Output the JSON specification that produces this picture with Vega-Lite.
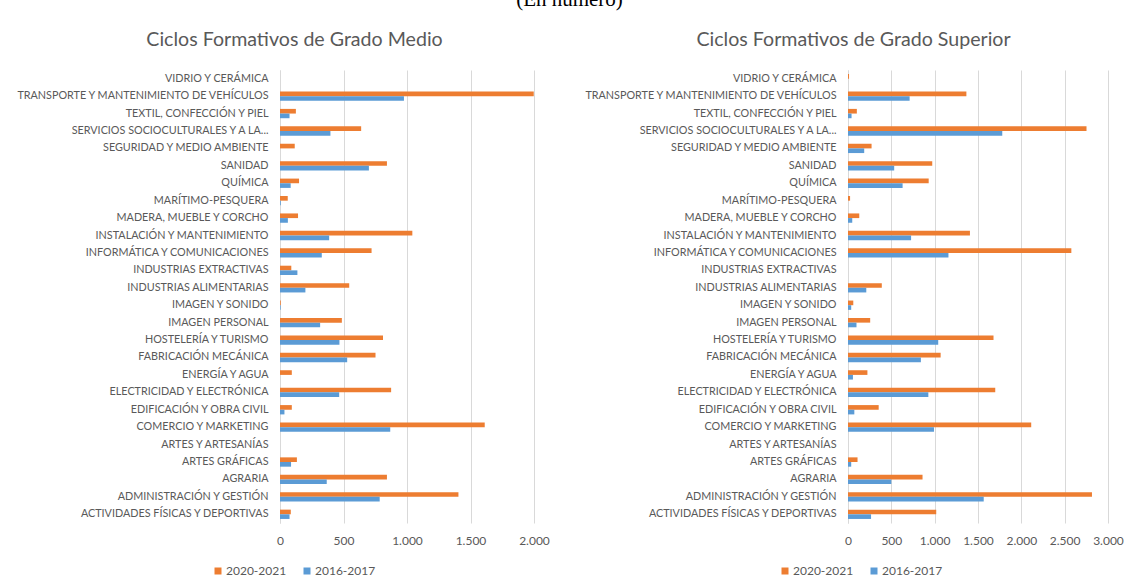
{
  "$schema": "https://vega.github.io/schema/vega-lite/v6.json",
  "padding": {"left": 15, "top": -11, "right": 5, "bottom": 5},
  "background": "white",
  "title": {"text": "(En número)", "font": "Liberation Serif", "fontSize": 21, "fontWeight": "normal", "color": "#000000", "offset": 20, "anchor": "middle", "frame": "bounds"},
  "config": {
    "locale": {"number": {"decimal": ",", "thousands": ".", "grouping": [3], "currency": ["", " €"]}},
    "view": {"stroke": null},
    "font": "Lato",
    "axis": {"labelColor": "#595959", "labelFont": "Lato", "ticks": false, "gridColor": "#d9d9d9", "gridWidth": 1, "domainColor": "#d9d9d9", "title": null},
    "axisY": {"domain": true, "grid": false, "labelFontSize": 10.8, "labelPadding": 12, "labelLimit": 400},
    "axisX": {"domain": false, "grid": true, "labelFontSize": 12, "labelPadding": 12, "labelOverlap": false, "labelFlush": false},
    "legend": {"labelFont": "Lato", "labelFontSize": 12, "labelColor": "#595959", "symbolType": "square", "symbolSize": 49, "symbolStrokeWidth": 0, "columnPadding": 14, "labelOffset": 2, "title": null},
    "title": {"font": "Lato", "fontSize": 19.6, "fontWeight": "normal", "color": "#595959"}
  },
  "data": {"values": [
    {"g": "Medio", "f": "VIDRIO Y CERÁMICA", "c": "2020-2021", "n": 0},
    {"g": "Medio", "f": "VIDRIO Y CERÁMICA", "c": "2016-2017", "n": 0},
    {"g": "Medio", "f": "TRANSPORTE Y MANTENIMIENTO DE VEHÍCULOS", "c": "2020-2021", "n": 1998},
    {"g": "Medio", "f": "TRANSPORTE Y MANTENIMIENTO DE VEHÍCULOS", "c": "2016-2017", "n": 976},
    {"g": "Medio", "f": "TEXTIL, CONFECCIÓN Y PIEL", "c": "2020-2021", "n": 125},
    {"g": "Medio", "f": "TEXTIL, CONFECCIÓN Y PIEL", "c": "2016-2017", "n": 75},
    {"g": "Medio", "f": "SERVICIOS SOCIOCULTURALES Y A LA COMUNIDAD", "c": "2020-2021", "n": 639},
    {"g": "Medio", "f": "SERVICIOS SOCIOCULTURALES Y A LA COMUNIDAD", "c": "2016-2017", "n": 397},
    {"g": "Medio", "f": "SEGURIDAD Y MEDIO AMBIENTE", "c": "2020-2021", "n": 116},
    {"g": "Medio", "f": "SEGURIDAD Y MEDIO AMBIENTE", "c": "2016-2017", "n": 0},
    {"g": "Medio", "f": "SANIDAD", "c": "2020-2021", "n": 842},
    {"g": "Medio", "f": "SANIDAD", "c": "2016-2017", "n": 700},
    {"g": "Medio", "f": "QUÍMICA", "c": "2020-2021", "n": 150},
    {"g": "Medio", "f": "QUÍMICA", "c": "2016-2017", "n": 84},
    {"g": "Medio", "f": "MARÍTIMO-PESQUERA", "c": "2020-2021", "n": 61},
    {"g": "Medio", "f": "MARÍTIMO-PESQUERA", "c": "2016-2017", "n": 6},
    {"g": "Medio", "f": "MADERA, MUEBLE Y CORCHO", "c": "2020-2021", "n": 142},
    {"g": "Medio", "f": "MADERA, MUEBLE Y CORCHO", "c": "2016-2017", "n": 62},
    {"g": "Medio", "f": "INSTALACIÓN Y MANTENIMIENTO", "c": "2020-2021", "n": 1042},
    {"g": "Medio", "f": "INSTALACIÓN Y MANTENIMIENTO", "c": "2016-2017", "n": 387},
    {"g": "Medio", "f": "INFORMÁTICA Y COMUNICACIONES", "c": "2020-2021", "n": 721},
    {"g": "Medio", "f": "INFORMÁTICA Y COMUNICACIONES", "c": "2016-2017", "n": 329},
    {"g": "Medio", "f": "INDUSTRIAS EXTRACTIVAS", "c": "2020-2021", "n": 89},
    {"g": "Medio", "f": "INDUSTRIAS EXTRACTIVAS", "c": "2016-2017", "n": 137},
    {"g": "Medio", "f": "INDUSTRIAS ALIMENTARIAS", "c": "2020-2021", "n": 545},
    {"g": "Medio", "f": "INDUSTRIAS ALIMENTARIAS", "c": "2016-2017", "n": 200},
    {"g": "Medio", "f": "IMAGEN Y SONIDO", "c": "2020-2021", "n": 6},
    {"g": "Medio", "f": "IMAGEN Y SONIDO", "c": "2016-2017", "n": 5},
    {"g": "Medio", "f": "IMAGEN PERSONAL", "c": "2020-2021", "n": 487},
    {"g": "Medio", "f": "IMAGEN PERSONAL", "c": "2016-2017", "n": 316},
    {"g": "Medio", "f": "HOSTELERÍA Y TURISMO", "c": "2020-2021", "n": 811},
    {"g": "Medio", "f": "HOSTELERÍA Y TURISMO", "c": "2016-2017", "n": 468},
    {"g": "Medio", "f": "FABRICACIÓN MECÁNICA", "c": "2020-2021", "n": 752},
    {"g": "Medio", "f": "FABRICACIÓN MECÁNICA", "c": "2016-2017", "n": 529},
    {"g": "Medio", "f": "ENERGÍA Y AGUA", "c": "2020-2021", "n": 93},
    {"g": "Medio", "f": "ENERGÍA Y AGUA", "c": "2016-2017", "n": 0},
    {"g": "Medio", "f": "ELECTRICIDAD Y ELECTRÓNICA", "c": "2020-2021", "n": 875},
    {"g": "Medio", "f": "ELECTRICIDAD Y ELECTRÓNICA", "c": "2016-2017", "n": 466},
    {"g": "Medio", "f": "EDIFICACIÓN Y OBRA CIVIL", "c": "2020-2021", "n": 93},
    {"g": "Medio", "f": "EDIFICACIÓN Y OBRA CIVIL", "c": "2016-2017", "n": 35},
    {"g": "Medio", "f": "COMERCIO Y MARKETING", "c": "2020-2021", "n": 1612},
    {"g": "Medio", "f": "COMERCIO Y MARKETING", "c": "2016-2017", "n": 868},
    {"g": "Medio", "f": "ARTES Y ARTESANÍAS", "c": "2020-2021", "n": 0},
    {"g": "Medio", "f": "ARTES Y ARTESANÍAS", "c": "2016-2017", "n": 0},
    {"g": "Medio", "f": "ARTES GRÁFICAS", "c": "2020-2021", "n": 133},
    {"g": "Medio", "f": "ARTES GRÁFICAS", "c": "2016-2017", "n": 87},
    {"g": "Medio", "f": "AGRARIA", "c": "2020-2021", "n": 842},
    {"g": "Medio", "f": "AGRARIA", "c": "2016-2017", "n": 368},
    {"g": "Medio", "f": "ADMINISTRACIÓN Y GESTIÓN", "c": "2020-2021", "n": 1405},
    {"g": "Medio", "f": "ADMINISTRACIÓN Y GESTIÓN", "c": "2016-2017", "n": 785},
    {"g": "Medio", "f": "ACTIVIDADES FÍSICAS Y DEPORTIVAS", "c": "2020-2021", "n": 85},
    {"g": "Medio", "f": "ACTIVIDADES FÍSICAS Y DEPORTIVAS", "c": "2016-2017", "n": 75},
    {"g": "Superior", "f": "VIDRIO Y CERÁMICA", "c": "2020-2021", "n": 12},
    {"g": "Superior", "f": "VIDRIO Y CERÁMICA", "c": "2016-2017", "n": 0},
    {"g": "Superior", "f": "TRANSPORTE Y MANTENIMIENTO DE VEHÍCULOS", "c": "2020-2021", "n": 1366},
    {"g": "Superior", "f": "TRANSPORTE Y MANTENIMIENTO DE VEHÍCULOS", "c": "2016-2017", "n": 711},
    {"g": "Superior", "f": "TEXTIL, CONFECCIÓN Y PIEL", "c": "2020-2021", "n": 102},
    {"g": "Superior", "f": "TEXTIL, CONFECCIÓN Y PIEL", "c": "2016-2017", "n": 41},
    {"g": "Superior", "f": "SERVICIOS SOCIOCULTURALES Y A LA COMUNIDAD", "c": "2020-2021", "n": 2752},
    {"g": "Superior", "f": "SERVICIOS SOCIOCULTURALES Y A LA COMUNIDAD", "c": "2016-2017", "n": 1780},
    {"g": "Superior", "f": "SEGURIDAD Y MEDIO AMBIENTE", "c": "2020-2021", "n": 272},
    {"g": "Superior", "f": "SEGURIDAD Y MEDIO AMBIENTE", "c": "2016-2017", "n": 187},
    {"g": "Superior", "f": "SANIDAD", "c": "2020-2021", "n": 972},
    {"g": "Superior", "f": "SANIDAD", "c": "2016-2017", "n": 533},
    {"g": "Superior", "f": "QUÍMICA", "c": "2020-2021", "n": 931},
    {"g": "Superior", "f": "QUÍMICA", "c": "2016-2017", "n": 630},
    {"g": "Superior", "f": "MARÍTIMO-PESQUERA", "c": "2020-2021", "n": 24},
    {"g": "Superior", "f": "MARÍTIMO-PESQUERA", "c": "2016-2017", "n": 0},
    {"g": "Superior", "f": "MADERA, MUEBLE Y CORCHO", "c": "2020-2021", "n": 130},
    {"g": "Superior", "f": "MADERA, MUEBLE Y CORCHO", "c": "2016-2017", "n": 49},
    {"g": "Superior", "f": "INSTALACIÓN Y MANTENIMIENTO", "c": "2020-2021", "n": 1407},
    {"g": "Superior", "f": "INSTALACIÓN Y MANTENIMIENTO", "c": "2016-2017", "n": 728},
    {"g": "Superior", "f": "INFORMÁTICA Y COMUNICACIONES", "c": "2020-2021", "n": 2577},
    {"g": "Superior", "f": "INFORMÁTICA Y COMUNICACIONES", "c": "2016-2017", "n": 1159},
    {"g": "Superior", "f": "INDUSTRIAS EXTRACTIVAS", "c": "2020-2021", "n": 0},
    {"g": "Superior", "f": "INDUSTRIAS EXTRACTIVAS", "c": "2016-2017", "n": 0},
    {"g": "Superior", "f": "INDUSTRIAS ALIMENTARIAS", "c": "2020-2021", "n": 390},
    {"g": "Superior", "f": "INDUSTRIAS ALIMENTARIAS", "c": "2016-2017", "n": 211},
    {"g": "Superior", "f": "IMAGEN Y SONIDO", "c": "2020-2021", "n": 61},
    {"g": "Superior", "f": "IMAGEN Y SONIDO", "c": "2016-2017", "n": 37},
    {"g": "Superior", "f": "IMAGEN PERSONAL", "c": "2020-2021", "n": 256},
    {"g": "Superior", "f": "IMAGEN PERSONAL", "c": "2016-2017", "n": 98},
    {"g": "Superior", "f": "HOSTELERÍA Y TURISMO", "c": "2020-2021", "n": 1679},
    {"g": "Superior", "f": "HOSTELERÍA Y TURISMO", "c": "2016-2017", "n": 1041},
    {"g": "Superior", "f": "FABRICACIÓN MECÁNICA", "c": "2020-2021", "n": 1069},
    {"g": "Superior", "f": "FABRICACIÓN MECÁNICA", "c": "2016-2017", "n": 841},
    {"g": "Superior", "f": "ENERGÍA Y AGUA", "c": "2020-2021", "n": 224},
    {"g": "Superior", "f": "ENERGÍA Y AGUA", "c": "2016-2017", "n": 57},
    {"g": "Superior", "f": "ELECTRICIDAD Y ELECTRÓNICA", "c": "2020-2021", "n": 1699},
    {"g": "Superior", "f": "ELECTRICIDAD Y ELECTRÓNICA", "c": "2016-2017", "n": 927},
    {"g": "Superior", "f": "EDIFICACIÓN Y OBRA CIVIL", "c": "2020-2021", "n": 354},
    {"g": "Superior", "f": "EDIFICACIÓN Y OBRA CIVIL", "c": "2016-2017", "n": 73},
    {"g": "Superior", "f": "COMERCIO Y MARKETING", "c": "2020-2021", "n": 2114},
    {"g": "Superior", "f": "COMERCIO Y MARKETING", "c": "2016-2017", "n": 992},
    {"g": "Superior", "f": "ARTES Y ARTESANÍAS", "c": "2020-2021", "n": 0},
    {"g": "Superior", "f": "ARTES Y ARTESANÍAS", "c": "2016-2017", "n": 0},
    {"g": "Superior", "f": "ARTES GRÁFICAS", "c": "2020-2021", "n": 110},
    {"g": "Superior", "f": "ARTES GRÁFICAS", "c": "2016-2017", "n": 37},
    {"g": "Superior", "f": "AGRARIA", "c": "2020-2021", "n": 860},
    {"g": "Superior", "f": "AGRARIA", "c": "2016-2017", "n": 500},
    {"g": "Superior", "f": "ADMINISTRACIÓN Y GESTIÓN", "c": "2020-2021", "n": 2815},
    {"g": "Superior", "f": "ADMINISTRACIÓN Y GESTIÓN", "c": "2016-2017", "n": 1566},
    {"g": "Superior", "f": "ACTIVIDADES FÍSICAS Y DEPORTIVAS", "c": "2020-2021", "n": 1018},
    {"g": "Superior", "f": "ACTIVIDADES FÍSICAS Y DEPORTIVAS", "c": "2016-2017", "n": 266}
  ]},
  "spacing": 33,
  "resolve": {"scale": {"color": "independent"}, "legend": {"color": "independent"}},
  "hconcat": [
    {
      "title": {"text": "Ciclos Formativos de Grado Medio", "frame": "bounds", "anchor": "middle", "offset": 19, "dx": 12},
      "transform": [{"filter": "datum.g == 'Medio'"}],
      "width": 254,
      "height": 453,
      "mark": {"type": "bar"},
      "encoding": {
        "y": {"field": "f", "type": "nominal", "sort": null, "scale": {"paddingInner": 0.465, "paddingOuter": 0.2325},
              "axis": {"labelExpr": "datum.label == 'SERVICIOS SOCIOCULTURALES Y A LA COMUNIDAD' ? 'SERVICIOS SOCIOCULTURALES Y A LA...' : datum.label"}},
        "yOffset": {"field": "c", "type": "nominal", "sort": ["2020-2021", "2016-2017"], "scale": {"paddingInner": 0, "paddingOuter": 0}},
        "x": {"field": "n", "type": "quantitative", "scale": {"domain": [0, 2000], "nice": false},
              "axis": {"values": [0, 500, 1000, 1500, 2000], "format": ",d"}},
        "color": {"field": "c", "type": "nominal", "scale": {"domain": ["2020-2021", "2016-2017"], "range": ["#ED7D31", "#5B9BD5"]},
                  "legend": {"orient": "none", "direction": "horizontal", "legendX": -68, "legendY": 495}}
      }
    },
    {
      "title": {"text": "Ciclos Formativos de Grado Superior", "frame": "bounds", "anchor": "middle", "offset": 19},
      "transform": [{"filter": "datum.g == 'Superior'"}],
      "width": 260,
      "height": 453,
      "mark": {"type": "bar"},
      "encoding": {
        "y": {"field": "f", "type": "nominal", "sort": null, "scale": {"paddingInner": 0.465, "paddingOuter": 0.2325},
              "axis": {"labelExpr": "datum.label == 'SERVICIOS SOCIOCULTURALES Y A LA COMUNIDAD' ? 'SERVICIOS SOCIOCULTURALES Y A LA...' : datum.label"}},
        "yOffset": {"field": "c", "type": "nominal", "sort": ["2020-2021", "2016-2017"], "scale": {"paddingInner": 0, "paddingOuter": 0}},
        "x": {"field": "n", "type": "quantitative", "scale": {"domain": [0, 3000], "nice": false},
              "axis": {"values": [0, 500, 1000, 1500, 2000, 2500, 3000], "format": ",d"}},
        "color": {"field": "c", "type": "nominal", "scale": {"domain": ["2020-2021", "2016-2017"], "range": ["#ED7D31", "#5B9BD5"]},
                  "legend": {"orient": "none", "direction": "horizontal", "legendX": -69, "legendY": 495}}
      }
    }
  ]
}
